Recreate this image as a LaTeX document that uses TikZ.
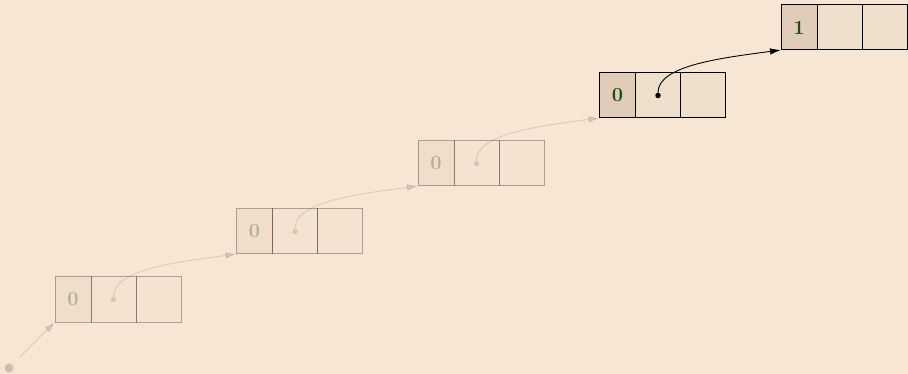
\documentclass[tikz,border=0pt]{standalone}
\usepackage{fontspec}
\usetikzlibrary{arrows.meta,positioning}
\definecolor{bgpaper}{HTML}{F7E6D3}
\definecolor{tagfill}{HTML}{E0CCB8}
\definecolor{slotfill}{HTML}{EDDFCB}
\definecolor{taggreen}{HTML}{1E4D14}
\tikzset{
  tagcell/.style={draw=black,line width=1pt,fill=tagfill,outer sep=0pt,inner sep=0pt,
    minimum width=36pt,minimum height=45pt,text=taggreen,font=\fontsize{20}{24}\selectfont\bfseries},
  slotcell/.style={draw=black,line width=1pt,fill=slotfill,outer sep=0pt,inner sep=0pt,
    minimum width=45pt,minimum height=45pt},
  ptrdot/.style={circle,fill=black,inner sep=0pt,minimum size=5.5pt},
  ghost/.style={opacity=0.3},
  faint/.style={opacity=0.12},
  ptr/.style={line width=0.9pt,-{Latex[length=11pt,width=6.5pt]}},
}
% one cell: name, top left corner, tag, extra style
\newcommand{\CONScell}[4]{\begin{scope}[#4]
  \node[tagcell,anchor=north west] (#1t) at (#2) {#3};
  \node[slotcell,right=0pt of #1t] (#1h) {};
  \node[slotcell,right=0pt of #1h] (#1d) {};
  \end{scope}}

\begin{document}
\begin{tikzpicture}[x=1pt,y=-1pt]
  \fill[bgpaper] (0,0) rectangle (908,374);
  \useasboundingbox (0,0) rectangle (908,374);
  \foreach\k in{0,1,2}{\CONScell{b\k}{55+181.5*\k,277-68*\k}{0}{ghost}}
  \CONScell{b3}{599.5,73}{0}{}
  \CONScell{b4}{781,5}{1}{}
  \foreach\k in{0,1,2}{\node[ptrdot,faint] (p\k) at (b\k h) {};}
  \node[ptrdot] (p3) at (b3h) {};
  \node[circle,fill=black!60,ghost,minimum size=9pt,inner sep=0pt] (start) at (9,368) {};
  \draw[ptr,faint,shorten <=10pt] (start) -- (b0t.south west);
  \foreach\k/\n in{0/1,1/2,2/3}{
    \draw[ptr,faint] (p\k) .. controls +(0,-30) and +(-60,8) .. (b\n t.south west);}
  \draw[ptr] (p3) .. controls +(0,-30) and +(-60,8) .. (b4t.south west);
\end{tikzpicture}
\end{document}
